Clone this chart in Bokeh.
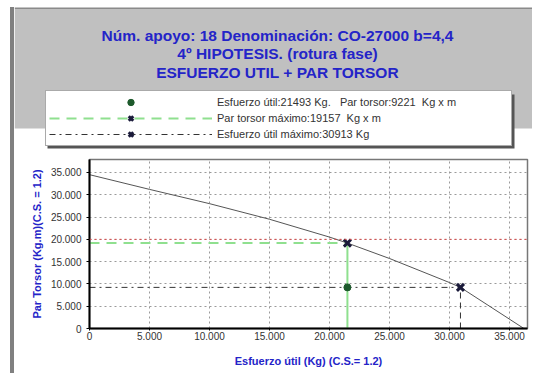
from bokeh.plotting import figure
from bokeh.layouts import row, column
from bokeh.models import (Range1d, BoxAnnotation, Label, Legend, LegendItem,
                          CustomJSTickFormatter, FixedTicker, Span, Spacer, Div)
from bokeh.embed import file_html
from bokeh.resources import INLINE

# ---------------- data ----------------
curve_x = [0, 5000, 10000, 15000, 20000, 21493, 25000, 30000, 30913, 36200]
curve_y = [34500, 31200, 28000, 24500, 20500, 19157, 15700, 10300, 9221, 0]
esfuerzo_util = 21493
par_torsor = 9221
par_torsor_max = 19157
esfuerzo_util_max = 30913
ref_line_y = 20000
x_ticks = [0, 5000, 10000, 15000, 20000, 25000, 30000, 35000]
y_ticks = [0, 5000, 10000, 15000, 20000, 25000, 30000, 35000]
title_lines = ["Núm. apoyo: 18 Denominación: CO-27000 b=4,4",
               "4º HIPOTESIS. (rotura fase)",
               "ESFUERZO UTIL + PAR TORSOR"]
legend_labels = ["Esfuerzo útil:21493 Kg.   Par torsor:9221  Kg x m",
                 "Par torsor máximo:19157  Kg x m",
                 "Esfuerzo útil máximo:30913 Kg"]
x_label = "Esfuerzo útil (Kg) (C.S.= 1.2)"
y_label = "Par Torsor (Kg.m)(C.S. = 1.2)"

# ---------------- styles ----------------
BLUE = "#2424c8"
FONT = "Liberation Sans"
GREEN_LIGHT = "#8fe08f"
GREEN_DARK = "#1d5a2c"
X_COL = "#1a1a3a"
DASH_COL = "#333333"

# ---------------- layout sizes ----------------
TOTAL_W, TOTAL_H = 532, 373
X0 = 14            # left of header/main
HW = TOTAL_W - X0  # width of header/main
HH = 150           # header height
MH = TOTAL_H - HH  # main height

# ================= header figure (pixel coordinates) =================
hdr = figure(frame_width=HW, frame_height=HH, output_backend="svg",
             toolbar_location=None,
             x_range=Range1d(X0, X0 + HW), y_range=Range1d(HH, 0),
             min_border=0, x_axis_location=None, y_axis_location=None)
hdr.grid.visible = False
hdr.outline_line_color = None
hdr.background_fill_color = "white"
hdr.border_fill_color = "white"

hdr.add_layout(BoxAnnotation(left=X0, right=X0 + HW, top=7, bottom=8.5,
                             fill_color="#8a8a8a", fill_alpha=1, line_alpha=0))
hdr.add_layout(BoxAnnotation(left=X0, right=X0 + HW, top=8.5, bottom=128,
                             fill_color="#c0c0c0", fill_alpha=1, line_alpha=0))

for i, t in enumerate(title_lines):
    hdr.add_layout(Label(x=277, y=35 + i * 18.3, text=t, text_align="center",
                         text_baseline="middle", text_font=FONT,
                         text_font_size="15.5px", text_font_style="bold",
                         text_color=BLUE))

# legend proxies (same styles as the chart glyphs)
nan = float("nan")
pr_pt = hdr.scatter([nan], [nan], marker="circle", size=7,
                    fill_color=GREEN_DARK, line_color=GREEN_DARK)
pr_gl = hdr.line([nan], [nan], line_color=GREEN_LIGHT, line_width=2, line_dash="10 7")
pr_x1 = hdr.scatter([nan], [nan], marker="x", size=10, line_color=X_COL, line_width=3)
pr_bl = hdr.line([nan], [nan], line_color=DASH_COL, line_width=1, line_dash="6 4 2 4")
pr_x2 = hdr.scatter([nan], [nan], marker="x", size=10, line_color=X_COL, line_width=3)

# legend shadow
hdr.add_layout(BoxAnnotation(left=47, right=514, top=94, bottom=148,
                             fill_color="#555555", fill_alpha=1, line_alpha=0))

legend = Legend(items=[
    LegendItem(label=legend_labels[0], renderers=[pr_pt]),
    LegendItem(label=legend_labels[1], renderers=[pr_gl, pr_x1]),
    LegendItem(label=legend_labels[2], renderers=[pr_bl, pr_x2]),
], location=(45 - X0, HH - 146))
legend.glyph_width = 163
legend.glyph_height = 16
legend.label_height = 16
legend.label_width = 291
legend.spacing = 0
legend.padding = 3
legend.margin = 0
legend.label_standoff = 5
legend.label_text_font = FONT
legend.label_text_font_size = "11px"
legend.label_text_color = "#333333"
legend.border_line_color = "#555555"
legend.border_line_width = 1
legend.background_fill_color = "white"
legend.background_fill_alpha = 1
hdr.add_layout(legend)

# ================= main figure =================
FRAME_L, FRAME_R, FRAME_T, FRAME_B = 89, 527, 159, 328
p = figure(width=HW, height=MH, output_backend="svg", toolbar_location=None,
           x_range=Range1d(0, 36500), y_range=Range1d(0, 37900),
           min_border_left=FRAME_L - X0, min_border_right=X0 + HW - FRAME_R,
           min_border_top=FRAME_T - HH, min_border_bottom=TOTAL_H - FRAME_B)
p.background_fill_color = "white"
p.border_fill_color = "white"
p.outline_line_color = "#777777"
p.outline_line_width = 1.5

for fig in (hdr, p):
    if "frame_align" in fig.properties():
        fig.frame_align = False

p.xaxis.ticker = FixedTicker(ticks=x_ticks)
p.yaxis.ticker = FixedTicker(ticks=y_ticks)
fmt = CustomJSTickFormatter(code="return tick.toString().replace(/\\B(?=(\\d{3})+(?!\\d))/g, '.');")
p.xaxis.formatter = fmt
p.yaxis.formatter = fmt
for ax in (p.xaxis, p.yaxis):
    ax.axis_line_width = 2
    ax.axis_line_color = "black"
    ax.major_tick_in = 0
    ax.major_tick_out = 3
    ax.minor_tick_line_color = None
    ax.major_label_text_font = FONT
    ax.major_label_text_font_size = "10px"
    ax.major_label_text_color = "#333333"
    ax.axis_label_text_font = FONT
    ax.axis_label_text_font_size = "11px"
    ax.axis_label_text_font_style = "bold"
    ax.axis_label_text_color = BLUE
p.xaxis.axis_label = x_label
p.yaxis.axis_label = y_label
p.xaxis.major_tick_out = 2
p.xaxis.major_label_standoff = 1
p.xaxis.axis_label_standoff = 12
p.yaxis.major_label_standoff = 5
p.yaxis.axis_label_standoff = 5
p.yaxis.major_label_orientation = "horizontal"
for g in (p.xgrid, p.ygrid):
    g.grid_line_color = "#9a9a9a"
    g.grid_line_dash = "2 3"
    g.grid_line_width = 1

p.add_layout(Span(location=ref_line_y, dimension="width", line_color="#e04848",
                  line_dash="2 3", line_width=1))

p.line(curve_x, curve_y, line_color="#555555", line_width=1)

p.line([0, esfuerzo_util], [par_torsor_max, par_torsor_max],
       line_color=GREEN_LIGHT, line_width=2, line_dash="10 7")
p.line([esfuerzo_util, esfuerzo_util], [0, par_torsor_max],
       line_color=GREEN_LIGHT, line_width=2)

p.line([0, esfuerzo_util_max], [par_torsor, par_torsor],
       line_color=DASH_COL, line_width=1, line_dash="6 4 2 4")
p.line([esfuerzo_util_max, esfuerzo_util_max], [0, par_torsor],
       line_color=DASH_COL, line_width=1, line_dash="6 4")

p.scatter([esfuerzo_util], [par_torsor], marker="circle", size=7,
          fill_color=GREEN_DARK, line_color=GREEN_DARK)
p.scatter([esfuerzo_util], [par_torsor_max], marker="x", size=10,
          line_color=X_COL, line_width=3)
p.scatter([esfuerzo_util_max], [par_torsor], marker="x", size=10,
          line_color=X_COL, line_width=3)

# left border bar
bar = Div(width=4, height=TOTAL_H - 7, margin=0,
          styles={"background-color": "#808080"})
left_col = column(Spacer(width=4, height=7, margin=0), bar, spacing=0)
layout = row(Spacer(width=10, height=TOTAL_H, margin=0), left_col,
             column(hdr, p, spacing=0), spacing=0)

open("out.html", "w").write(file_html(layout, INLINE))
